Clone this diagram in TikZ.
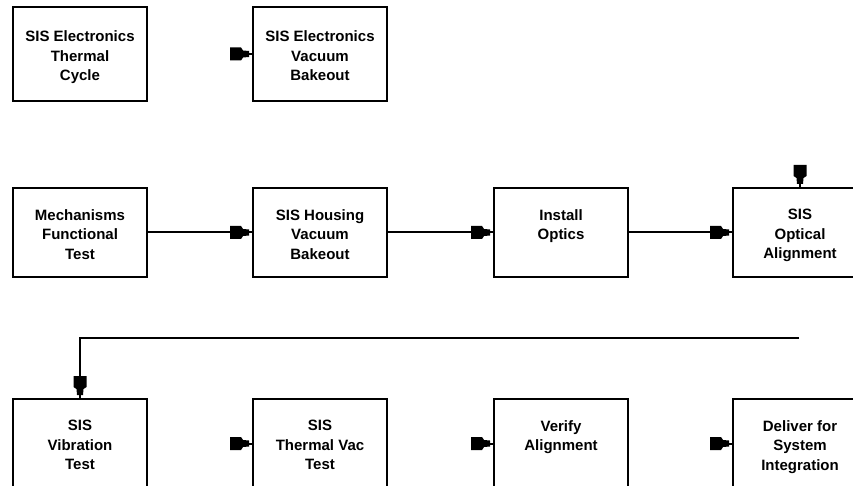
\documentclass[tikz,border=0pt]{standalone}
\usepackage{fontspec}
\setmainfont{Liberation Sans}
\newcommand\btext[1]{\parbox[c][46pt][t]{132pt}{\centering\fontsize{15}{19.5}\selectfont\bfseries #1}}
\tikzset{
  stepbox/.style={draw, line width=2pt, minimum width=134pt, minimum height=89pt, inner sep=0pt},
  tallbox/.style={stepbox, minimum height=94pt},
  flow/.style={line width=2pt},
  tipmark/.pic={
    \fill (-22,-6.5) -- (-11,-6.5) -- (-9,-3.5) -- (-3,-3) -- (-3,3) -- (-9,3.5) -- (-11,6.5) -- (-22,6.5) -- cycle;
    \draw[line width=2pt] (-4,0) -- (0,0);
  }
}
\begin{document}
\begin{tikzpicture}[x=1pt,y=-1pt]
\useasboundingbox (0,0) rectangle (853,486);
\clip (0,0) rectangle (853,486);
% first row
\node[tallbox] (etc) at (80,54) {\btext{SIS Electronics\\Thermal\\Cycle}};
\node[tallbox] (evb) at (320,54) {\btext{SIS Electronics\\Vacuum\\Bakeout}};
% second row
\node[stepbox] (mft) at (80,232.5) {\btext{Mechanisms\\Functional\\Test}};
\node[stepbox] (hvb) at (320,232.5) {\btext{SIS Housing\\Vacuum\\Bakeout}};
\node[stepbox] (opt) at (561,232.5) {\btext{Install\\Optics}};
\node[stepbox] (soa) at (800,232.5) {\btext{SIS\\Optical\\Alignment}};
% third row
\node[stepbox] (vib) at (80,443.5) {\btext{SIS\\Vibration\\Test}};
\node[stepbox] (tvt) at (320,443.5) {\btext{SIS\\Thermal Vac\\Test}};
\node[stepbox] (val) at (561,443.5) {\btext{Verify\\Alignment}};
\node[stepbox] (dsi) at (800,443.5) {\btext{Deliver for\\System\\Integration}};
% connectors
\pic at (evb.west) {tipmark};
\draw[flow] (mft) -- (hvb);
\pic at (hvb.west) {tipmark};
\draw[flow] (hvb) -- (opt);
\pic at (opt.west) {tipmark};
\draw[flow] (opt) -- (soa);
\pic at (soa.west) {tipmark};
\pic[rotate=-90] at (soa.north) {tipmark};
\coordinate (loop) at (799,338);
\draw[flow] (loop) -| (vib.north);
\pic[rotate=-90] at (vib.north) {tipmark};
\pic at (tvt.west) {tipmark};
\pic at (val.west) {tipmark};
\pic at (dsi.west) {tipmark};
\end{tikzpicture}
\end{document}
